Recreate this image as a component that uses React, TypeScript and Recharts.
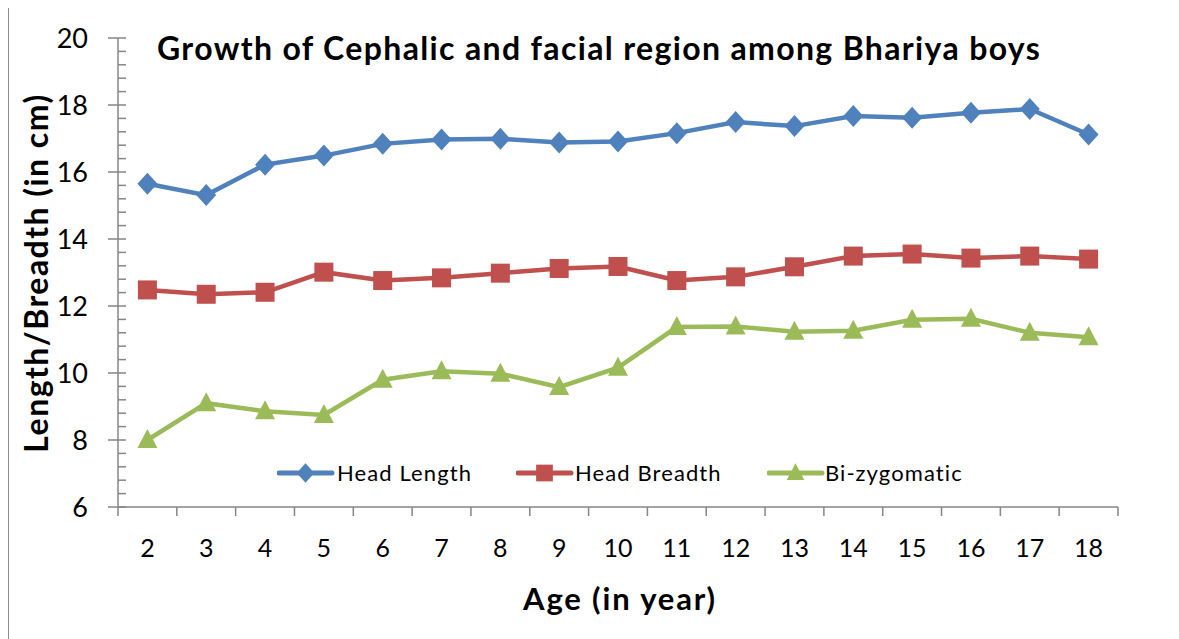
import React from 'react';
import { LineChart, Line, XAxis, YAxis, Legend } from 'recharts';

const ages = [2, 3, 4, 5, 6, 7, 8, 9, 10, 11, 12, 13, 14, 15, 16, 17, 18];
const headLength = [15.65, 15.31, 16.22, 16.49, 16.84, 16.97, 16.99, 16.88, 16.91, 17.16, 17.49, 17.37, 17.67, 17.62, 17.77, 17.88, 17.12];
const headBreadth = [12.48, 12.35, 12.41, 13.01, 12.76, 12.84, 12.98, 13.12, 13.18, 12.76, 12.87, 13.17, 13.49, 13.55, 13.43, 13.49, 13.40];
const biZygomatic = [8.0, 9.10, 8.86, 8.75, 9.80, 10.05, 9.98, 9.58, 10.16, 11.37, 11.39, 11.23, 11.26, 11.59, 11.62, 11.20, 11.07];

const yTicks = [6, 6.4, 6.8, 7.2, 7.6, 8, 8.4, 8.8, 9.2, 9.6, 10, 10.4, 10.8, 11.2, 11.6, 12, 12.4, 12.8, 13.2, 13.6, 14, 14.4, 14.8, 15.2, 15.6, 16, 16.4, 16.8, 17.2, 17.6, 18, 18.4, 18.8, 19.2, 19.6, 20];
const yMajorTicks = [6, 8, 10, 12, 14, 16, 18, 20];

const titleText = 'Growth of Cephalic and facial region among Bhariya boys';
const yLabelText = 'Length/Breadth (in cm)';
const xLabelText = 'Age (in year)';

const seriesNames = ['Head Length', 'Head Breadth', 'Bi-zygomatic'];
const colors = ['#4F81BD', '#C0504D', '#9BBB59'];
const shapes = ['diamond', 'square', 'triangle'];

const data = ages.map((a, i) => ({
  age: a,
  hl: headLength[i],
  hb: headBreadth[i],
  bz: biZygomatic[i],
}));

const FONT = 'Lato, "Open Sans", sans-serif';
const AXIS_COLOR = '#868686';
const CHART_W = 1163;
const CHART_H = 631;
const MARGIN = { top: 30, right: 53, bottom: 72, left: 20 };
const Y_AXIS_W = 90;
const PLOT_W = CHART_W - MARGIN.left - MARGIN.right - Y_AXIS_W;
const HALF_BAND = PLOT_W / ages.length / 2;

function Marker({ shape, cx, cy, color, s = 1 }: any) {
  if (shape === 'diamond') {
    const w = 10 * s, h = 11 * s;
    return <polygon points={`${cx},${cy - h} ${cx + w},${cy} ${cx},${cy + h} ${cx - w},${cy}`} fill={color} />;
  }
  if (shape === 'square') {
    const h = 9.5 * s;
    return <rect x={cx - h} y={cy - h} width={2 * h} height={2 * h} fill={color} />;
  }
  const w = 10 * s;
  return <polygon points={`${cx},${cy - 11 * s} ${cx + w},${cy + 8 * s} ${cx - w},${cy + 8 * s}`} fill={color} />;
}

const makeDot = (shape: string, color: string) => (props: any) => {
  const { cx, cy, index } = props;
  return <Marker key={`${shape}-${index}`} shape={shape} cx={cx} cy={cy} color={color} />;
};

const YTick = (props: any) => {
  const { x, y, payload } = props;
  const v = payload.value;
  const major = yMajorTicks.includes(v);
  return (
    <g>
      <line x1={major ? x - 10 : x} x2={x + 8} y1={y} y2={y} stroke={AXIS_COLOR} strokeWidth={1.5} />
      {major && (
        <text x={x - 30} y={y} dy="0.36em" textAnchor="end" fontFamily={FONT} fontSize={27} fill="#000">
          {v}
        </text>
      )}
    </g>
  );
};

const XTick = (props: any) => {
  const { x, y, payload } = props;
  return (
    <g>
      <line x1={x + HALF_BAND} x2={x + HALF_BAND} y1={y} y2={y + 9} stroke={AXIS_COLOR} strokeWidth={1.5} />
      {payload.value === ages[0] && (
        <line x1={x - HALF_BAND} x2={x - HALF_BAND} y1={y} y2={y + 9} stroke={AXIS_COLOR} strokeWidth={1.5} />
      )}
      <text x={x} y={y + 50} textAnchor="middle" fontFamily={FONT} fontSize={25} fill="#000">
        {payload.value}
      </text>
    </g>
  );
};

const legendLineStarts = [277, 516, 767];
const legendTextStarts = [337, 575, 825];

const renderLegend = () => (
  <div style={{ position: 'relative', width: 740, height: 30 }}>
    {seriesNames.map((name, i) => (
      <div
        key={name}
        style={{
          position: 'absolute',
          left: legendLineStarts[i] - legendLineStarts[0],
          top: 0,
          height: 30,
          width: 250,
        }}
      >
        <svg width={58} height={30} style={{ position: 'absolute', left: 0, top: 0 }}>
          <line x1={2} x2={55} y1={15} y2={15} stroke={colors[i]} strokeWidth={5} strokeLinecap="round" />
          <Marker shape={shapes[i]} cx={28.5} cy={15} color={colors[i]} s={0.88} />
        </svg>
        <span
          style={{
            position: 'absolute',
            left: legendTextStarts[i] - legendLineStarts[i],
            top: 0,
            lineHeight: '30px',
            fontFamily: FONT,
            fontSize: 22,
            letterSpacing: '1.1px',
            color: '#000',
            whiteSpace: 'nowrap',
          }}
        >
          {name}
        </span>
      </div>
    ))}
  </div>
);

export default function App() {
  return (
    <div style={{ position: 'relative', width: CHART_W, height: CHART_H }}>
      <div
        style={{
          position: 'absolute',
          left: -1,
          top: -3,
          width: 1166,
          height: 660,
          border: '2px solid #8c8c8c',
          boxSizing: 'border-box',
          pointerEvents: 'none',
        }}
      />
      <LineChart width={CHART_W} height={CHART_H} data={data} margin={MARGIN}>
        <XAxis
          dataKey="age"
          type="number"
          domain={[1.5, 18.5]}
          ticks={ages}
          interval={0}
          tickSize={0}
          tickMargin={0}
          height={60}
          tickLine={false}
          axisLine={{ stroke: AXIS_COLOR, strokeWidth: 1.5 }}
          tick={<XTick />}
        />
        <YAxis
          type="number"
          domain={[6, 20]}
          ticks={yTicks}
          interval={0}
          width={Y_AXIS_W}
          tickSize={0}
          tickMargin={0}
          tickLine={false}
          axisLine={{ stroke: AXIS_COLOR, strokeWidth: 1.5 }}
          tick={<YTick />}
        />
        <Legend
          verticalAlign="middle"
          align="center"
          layout="horizontal"
          content={renderLegend}
          wrapperStyle={{ left: legendLineStarts[0] - 8, top: 458 - 8, width: 740, height: 30 }}
        />
        <Line type="linear" dataKey="hl" name={seriesNames[0]} stroke={colors[0]} strokeWidth={4.5} dot={makeDot(shapes[0], colors[0])} activeDot={false} isAnimationActive={false} />
        <Line type="linear" dataKey="hb" name={seriesNames[1]} stroke={colors[1]} strokeWidth={4.5} dot={makeDot(shapes[1], colors[1])} activeDot={false} isAnimationActive={false} />
        <Line type="linear" dataKey="bz" name={seriesNames[2]} stroke={colors[2]} strokeWidth={4.5} dot={makeDot(shapes[2], colors[2])} activeDot={false} isAnimationActive={false} />
      </LineChart>
      <div
        style={{
          position: 'absolute',
          left: 157 - 8,
          top: 23.5,
          fontFamily: FONT,
          fontWeight: 700,
          fontSize: 32,
          letterSpacing: '1.35px',
          color: '#000',
          whiteSpace: 'nowrap',
          lineHeight: '32px',
        }}
      >
        {titleText}
      </div>
      <div
        style={{
          position: 'absolute',
          left: 27.6 - 250,
          top: 264.5 - 16,
          width: 500,
          height: 32,
          lineHeight: '32px',
          textAlign: 'center',
          transform: 'rotate(-90deg)',
          fontFamily: FONT,
          fontWeight: 700,
          fontSize: 32,
          letterSpacing: '1.45px',
          color: '#000',
          whiteSpace: 'nowrap',
        }}
      >
        {yLabelText}
      </div>
      <div
        style={{
          position: 'absolute',
          left: 523 - 8,
          top: 574.5,
          lineHeight: '31px',
          fontFamily: FONT,
          fontWeight: 700,
          fontSize: 31,
          letterSpacing: '1.85px',
          color: '#000',
          whiteSpace: 'nowrap',
        }}
      >
        {xLabelText}
      </div>
    </div>
  );
}
